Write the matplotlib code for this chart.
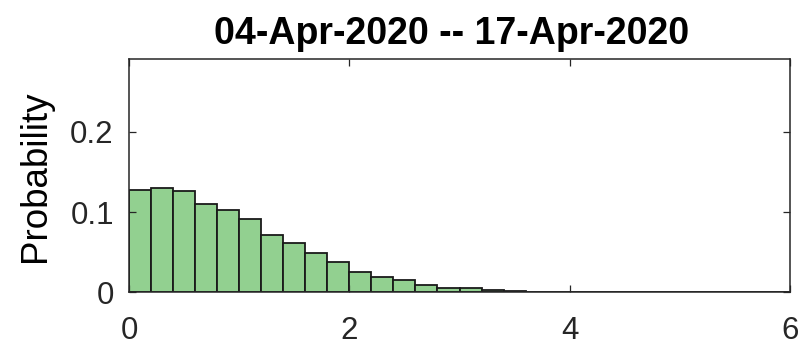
import matplotlib
matplotlib.use("Agg")
import matplotlib.pyplot as plt
import numpy as np

# histogram bin edges (width 0.2, 0..6) and probabilities
bin_edges = [round(0.2 * i, 1) for i in range(31)]
probs = [0.127, 0.1295, 0.1257, 0.110, 0.1025, 0.0917, 0.071, 0.0622, 0.049, 0.038,
         0.0255, 0.0195, 0.0153, 0.0091, 0.0062, 0.0050, 0.0029, 0.0021, 0.0008, 0.0004,
         0.0003, 0.0002, 0.0002, 0.0001, 0.0001, 0.0001, 0.0001, 0.0001, 0.0001, 0.0001]
title = "04-Apr-2020 -- 17-Apr-2020"

plt.rcParams["font.family"] = ["Liberation Sans", "DejaVu Sans"]

fig = plt.figure(figsize=(8.09, 3.51), dpi=100)
ax = fig.add_axes([0.1595, 0.1667, 0.8170, 0.6638])

lefts = np.array(bin_edges[:-1])
widths = np.diff(bin_edges)
ax.bar(lefts, probs, width=widths, align="edge", color="#92D090",
       edgecolor="#1a1a1a", linewidth=1.3)

ax.set_xlim(0, 6)
ax.set_ylim(0, 0.29)
ax.set_xticks([0, 2, 4, 6])
ax.set_yticks([0, 0.1, 0.2])
ax.set_yticklabels(["0", "0.1", "0.2"])
ax.tick_params(direction="in", length=5, width=0.9, labelsize=22.5, colors="#262626",
               top=True, right=True)
ax.tick_params(axis="x", pad=17)
ax.tick_params(axis="y", pad=11)
for s in ax.spines.values():
    s.set_color("#262626")
    s.set_linewidth(1.1)
ax.set_ylabel("Probability", fontsize=26.5, labelpad=12)
ax.set_title(title, fontsize=27, fontweight="bold", pad=11, x=0.488)

fig.savefig("out.png", dpi=100)
